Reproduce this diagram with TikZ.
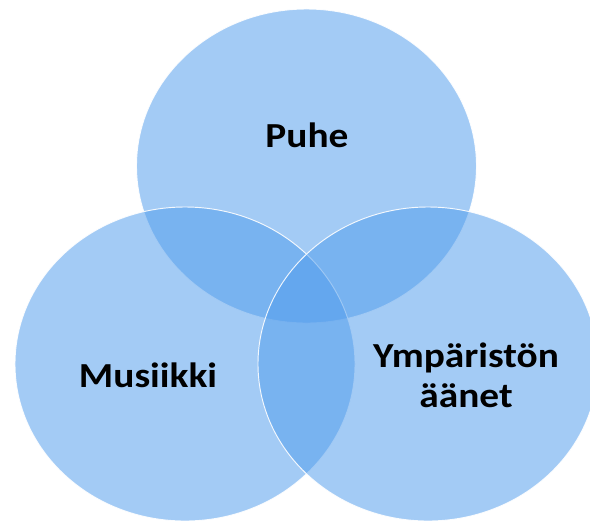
\documentclass[tikz,border=0pt]{standalone}
\usepackage{fontspec}
\setmainfont{Carlito}
\usepackage{tikz}
\usetikzlibrary{shapes.geometric}
\definecolor{setblue}{RGB}{82,157,236}

\begin{document}
\begin{tikzpicture}
[x=0.03cm,y=-0.03cm,
 set/.style={ellipse,fill=setblue,fill opacity=0.53,draw=white,draw opacity=0.9,line width=0.8pt,inner sep=0pt,outer sep=0pt,minimum width=10.2cm,minimum height=9.42cm},
 lbl/.style={font=\fontsize{30}{34}\selectfont\bfseries,text=black,align=center,transform shape,xscale=1.12}]
\useasboundingbox (0,0) rectangle (590,520);
\node[set] (top) at (306.5,166) {};
\node[set] (left) at (185,364) {};
\node[set] (right) at (428,364) {};
\node[lbl] (puhe) at (307,135) {Puhe};
\node[lbl] (musiikki) at (148,375) {Musiikki};
\node[lbl] (ymparisto) at (466,375) {Ympäristön\\äänet};
\end{tikzpicture}
\end{document}
